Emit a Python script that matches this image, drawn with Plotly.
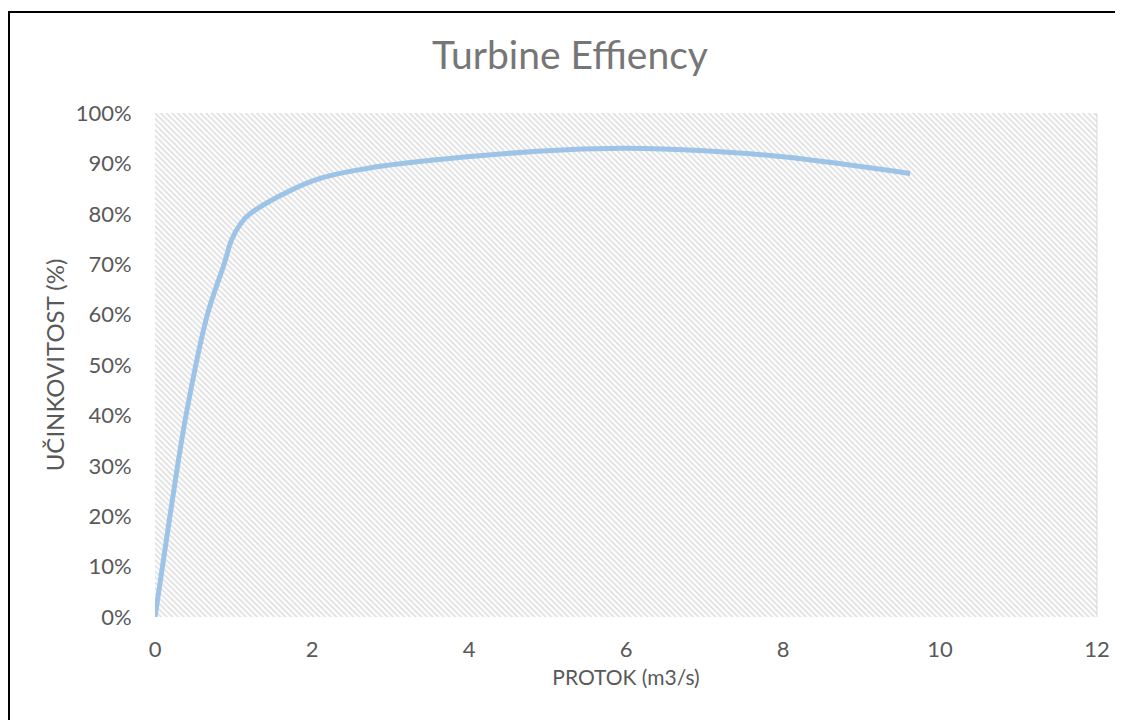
import plotly.graph_objects as go

# Data
flow = [0.0, 0.19, 0.395, 0.667, 0.88, 0.98, 1.09, 1.21, 2.0, 2.7, 3.97, 5.24, 6.0, 7.0, 8.0, 9.62]
eff = [0.0, 0.20, 0.40, 0.60, 0.70, 0.75, 0.78, 0.80, 0.865, 0.89, 0.913, 0.927, 0.930, 0.925, 0.913, 0.880]

x_ticks = [0, 2, 4, 6, 8, 10, 12]
y_ticks = [0, 0.1, 0.2, 0.3, 0.4, 0.5, 0.6, 0.7, 0.8, 0.9, 1.0]
y_tick_labels = ["0%", "10%", "20%", "30%", "40%", "50%", "60%", "70%", "80%", "90%", "100%"]

title_text = "Turbine Effiency"
x_title = "PROTOK (m3/s)"
y_title = "UČINKOVITOST (%)"

# page body has an 8px margin; figure starts at (8, 8) in the window
OFF = 8
W, H = 1123 - OFF, 720 - OFF
L = 155 - OFF
T = 113 - OFF
R = W - (1097 - OFF)
B = H - (617 - OFF)

fig = go.Figure()

# hatched plot-area background
fig.add_trace(go.Scatter(
    x=[0, 12, 12, 0, 0], y=[0, 0, 1, 1, 0],
    mode="lines", line=dict(width=0, color="rgba(0,0,0,0)"),
    fill="toself", fillcolor="rgba(255,255,255,0)",
    fillpattern=dict(shape="\\", fgcolor="#bdbdbd", bgcolor="white", size=4, solidity=0.42),
    hoverinfo="skip", showlegend=False,
))

fig.add_trace(go.Scatter(
    x=flow, y=eff, mode="lines",
    line=dict(color="#9dc3e6", width=5, shape="spline", smoothing=1.0),
    showlegend=False,
))

font_family = "Lato, Open Sans, sans-serif"

fig.update_layout(
    width=W, height=H,
    margin=dict(l=L, r=R, t=T, b=B, autoexpand=False),
    paper_bgcolor="white", plot_bgcolor="white",
    title=dict(text=title_text, x=(570 - OFF) / W, xref="container", xanchor="center",
               y=1 - (55 - OFF) / H, yref="container", yanchor="middle",
               font=dict(family=font_family, size=39, color="#767676")),
    font=dict(family=font_family, color="#595959"),
)

fig.update_xaxes(
    range=[0, 12], tickvals=x_ticks, ticktext=[str(v) for v in x_ticks],
    showgrid=True, gridcolor="#d9d9d9", gridwidth=1,
    zeroline=False, showline=False, automargin=False,
    ticks="outside", ticklen=13, tickcolor="rgba(0,0,0,0)",
    tickfont=dict(size=22, color="#595959"),
    title=dict(text=x_title, font=dict(size=21, color="#595959"), standoff=8),
)
fig.update_yaxes(
    range=[0, 1], tickvals=y_ticks, ticktext=y_tick_labels,
    showgrid=True, gridcolor="#d9d9d9", gridwidth=1,
    zeroline=False, showline=False, automargin=False,
    ticks="outside", ticklen=18, tickcolor="rgba(0,0,0,0)",
    tickfont=dict(size=22, color="#595959"),
    title=dict(text=y_title, font=dict(size=24, color="#595959"), standoff=4),
)

# right edge grid line of plot area
fig.add_shape(type="line", xref="paper", yref="paper", x0=1, x1=1, y0=0, y1=1,
              line=dict(color="#d9d9d9", width=1))

# outer chart border (left and top visible)
pw = W - L - R
ph = H - T - B
bx0 = (9 - OFF - L) / pw
by1 = (H - B - (12 - OFF)) / ph
fig.add_shape(type="rect", xref="paper", yref="paper",
              x0=bx0, x1=(W + 20 - L) / pw, y0=-(B + 20) / ph, y1=by1,
              line=dict(color="black", width=2), layer="above")

fig.write_html("out.html")
